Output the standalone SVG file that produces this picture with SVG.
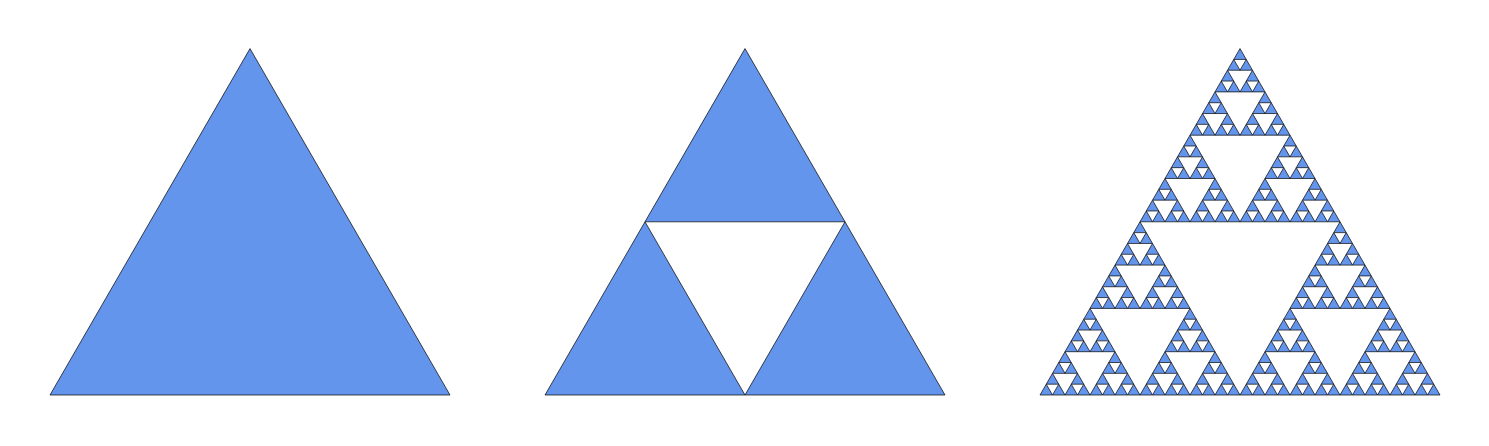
<svg xmlns="http://www.w3.org/2000/svg" xmlns:xlink="http://www.w3.org/1999/xlink" width="1489" height="446" viewBox="0 0 1489 446">
<style>
.tri { fill: #6495ED; stroke: #000; stroke-width: 0.7; stroke-linejoin: miter; }
</style>
<defs>
<polygon id="t0" class="tri" points="0,0 12.5,0 6.25,-10.8253"/>
<g id="t1"><use xlink:href="#t0"/><use xlink:href="#t0" x="12.5"/><use xlink:href="#t0" x="6.25" y="-10.8253"/></g>
<g id="t2"><use xlink:href="#t1"/><use xlink:href="#t1" x="25"/><use xlink:href="#t1" x="12.5" y="-21.6506"/></g>
<g id="t3"><use xlink:href="#t2"/><use xlink:href="#t2" x="50"/><use xlink:href="#t2" x="25" y="-43.3013"/></g>
<g id="t4"><use xlink:href="#t3"/><use xlink:href="#t3" x="100"/><use xlink:href="#t3" x="50" y="-86.6025"/></g>
<g id="t5"><use xlink:href="#t4"/><use xlink:href="#t4" x="200"/><use xlink:href="#t4" x="100" y="-173.205"/></g>
</defs>
<rect width="1489" height="446" fill="#fff"/>
<g id="triangle-1">
<polygon class="tri" points="50,395 450,395 250,48.59"/>
</g>
<g id="triangle-2">
<polygon class="tri" points="545,395 745,395 645,221.795"/>
<polygon class="tri" points="745,395 945,395 845,221.795"/>
<polygon class="tri" points="645,221.795 845,221.795 745,48.59"/>
</g>
<g id="triangle-3">
<use xlink:href="#t5" x="1040" y="395"/>
</g>
<g id="connectors"></g>
</svg>
